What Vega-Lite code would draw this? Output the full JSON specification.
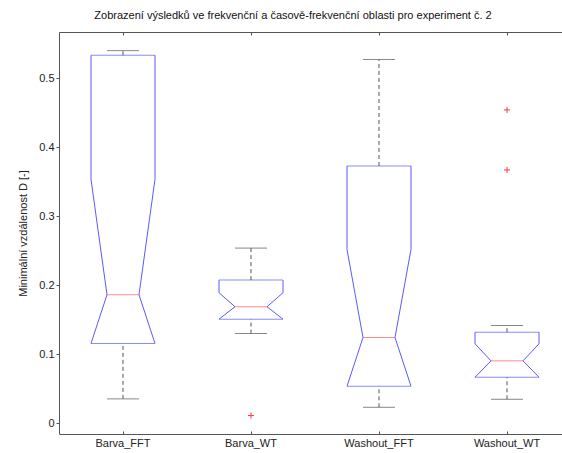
{
  "$schema": "https://vega.github.io/schema/vega-lite/v6.json",
  "width": 504,
  "height": 402,
  "autosize": {"type": "none"},
  "padding": {"left": 59, "top": 32, "right": 0, "bottom": 19},
  "background": "white",
  "title": {
    "text": "Zobrazení výsledků ve frekvenční a časově-frekvenční oblasti pro experiment č. 2",
    "font": "Liberation Sans",
    "fontSize": 11,
    "fontWeight": "normal",
    "color": "#111",
    "anchor": "middle",
    "dx": -18,
    "dy": 8,
    "baseline": "bottom",
    "offset": 8
  },
  "config": {
    "view": {"stroke": null},
    "font": "Liberation Sans",
    "axis": {
      "grid": false,
      "domain": true,
      "domainColor": "#555",
      "domainWidth": 1,
      "ticks": true,
      "tickColor": "#555",
      "labelColor": "#222",
      "labelFont": "Liberation Sans",
      "labelFontSize": 11,
      "titleFont": "Liberation Sans",
      "titleFontSize": 11,
      "titleFontWeight": "normal",
      "titleColor": "#222"
    },
    "axisY": {"tickSize": 3, "labelPadding": 2, "titlePadding": 10}
  },
  "datasets": {
    "stats": [
      {"group": "Barva_FFT", "wlo": 0.0354, "q1": 0.1156, "med": 0.1863, "nhi": 0.3535, "q3": 0.5334, "whi": 0.54},
      {"group": "Barva_WT", "wlo": 0.1301, "q1": 0.1509, "med": 0.1689, "nhi": 0.1892, "q3": 0.2075, "whi": 0.2539},
      {"group": "Washout_FFT", "wlo": 0.0232, "q1": 0.0537, "med": 0.1243, "nhi": 0.252, "q3": 0.3729, "whi": 0.5272},
      {"group": "Washout_WT", "wlo": 0.0348, "q1": 0.0667, "med": 0.0905, "nhi": 0.1152, "q3": 0.132, "whi": 0.1417}
    ],
    "outliers": [
      {"group": "Barva_WT", "value": 0.0112},
      {"group": "Washout_WT", "value": 0.4541},
      {"group": "Washout_WT", "value": 0.3671}
    ]
  },
  "resolve": {"axis": {"x": "independent"}},
  "layer": [
    {
      "data": {"name": "stats"},
      "transform": [{"fold": ["q1", "q3"], "as": ["key", "value"]}],
      "mark": {"type": "tick", "size": 64, "thickness": 1, "color": "#5a5aff"},
      "encoding": {
        "x": {
          "field": "group", "type": "nominal",
          "scale": {"type": "band", "domain": ["Barva_FFT", "Barva_WT", "Washout_FFT", "Washout_WT"], "range": [0, 512], "paddingInner": 0, "paddingOuter": 0},
          "axis": {"orient": "bottom", "title": null, "tickSize": -3, "labelPadding": 6, "labelAngle": 0}
        },
        "y": {
          "field": "value", "type": "quantitative",
          "scale": {"domain": [-0.0155, 0.567], "nice": false, "zero": false},
          "axis": {"values": [0, 0.1, 0.2, 0.3, 0.4, 0.5], "format": "~g"},
          "title": "Minimální vzdálenost D [-]"
        }
      }
    },
    {
      "data": {"name": "stats"},
      "mark": {"type": "tick", "size": 32, "thickness": 1, "color": "#ff5a5a"},
      "encoding": {
        "x": {
          "field": "group", "type": "nominal",
          "axis": {"orient": "top", "title": null, "labels": false, "tickSize": -3}
        },
        "y": {
          "field": "med", "type": "quantitative",
          "axis": {"values": [0, 0.1, 0.2, 0.3, 0.4, 0.5], "format": "~g"},
          "title": "Minimální vzdálenost D [-]"
        }
      }
    },
    {
      "data": {"name": "stats"},
      "transform": [
        {"fold": ["q1", "med", "nhi", "q3"], "as": ["key", "value"]},
        {"lookup": "key", "from": {"data": {"values": [
          {"key": "q1", "dxL": -32, "dxR": 32},
          {"key": "med", "dxL": -16, "dxR": 16},
          {"key": "nhi", "dxL": -32, "dxR": 32},
          {"key": "q3", "dxL": -32, "dxR": 32}
        ]}, "key": "key", "fields": ["dxL", "dxR"]}}
      ],
      "layer": [
        {
          "mark": {"type": "line", "color": "#5a5aff", "strokeWidth": 1},
          "encoding": {
            "x": {"field": "group", "type": "nominal", "axis": null},
            "xOffset": {"field": "dxL", "type": "quantitative", "scale": {"domain": [-64, 64], "range": [0, 128], "nice": false, "zero": false}},
            "y": {"field": "value", "type": "quantitative", "axis": {"values": [0, 0.1, 0.2, 0.3, 0.4, 0.5], "format": "~g"}, "title": "Minimální vzdálenost D [-]"},
            "detail": {"field": "group"},
            "order": {"field": "value", "type": "quantitative"}
          }
        },
        {
          "mark": {"type": "line", "color": "#5a5aff", "strokeWidth": 1},
          "encoding": {
            "x": {"field": "group", "type": "nominal", "axis": null},
            "xOffset": {"field": "dxR", "type": "quantitative", "scale": {"domain": [-64, 64], "range": [0, 128], "nice": false, "zero": false}},
            "y": {"field": "value", "type": "quantitative", "axis": {"values": [0, 0.1, 0.2, 0.3, 0.4, 0.5], "format": "~g"}, "title": "Minimální vzdálenost D [-]"},
            "detail": {"field": "group"},
            "order": {"field": "value", "type": "quantitative"}
          }
        }
      ]
    },
    {
      "data": {"name": "stats"},
      "mark": {"type": "rule", "color": "#555", "strokeWidth": 1, "strokeDash": [4, 3]},
      "encoding": {
        "x": {"field": "group", "type": "nominal", "axis": null},
        "y": {"field": "q3", "type": "quantitative", "axis": {"values": [0, 0.1, 0.2, 0.3, 0.4, 0.5], "format": "~g"}, "title": "Minimální vzdálenost D [-]"},
        "y2": {"field": "whi"}
      }
    },
    {
      "data": {"name": "stats"},
      "mark": {"type": "rule", "color": "#555", "strokeWidth": 1, "strokeDash": [4, 3]},
      "encoding": {
        "x": {"field": "group", "type": "nominal", "axis": null},
        "y": {"field": "wlo", "type": "quantitative", "axis": {"values": [0, 0.1, 0.2, 0.3, 0.4, 0.5], "format": "~g"}, "title": "Minimální vzdálenost D [-]"},
        "y2": {"field": "q1"}
      }
    },
    {
      "data": {"name": "stats"},
      "transform": [{"fold": ["wlo", "whi"], "as": ["key", "value"]}],
      "mark": {"type": "tick", "size": 32, "thickness": 1, "color": "#555"},
      "encoding": {
        "x": {"field": "group", "type": "nominal", "axis": null},
        "y": {"field": "value", "type": "quantitative", "axis": {"values": [0, 0.1, 0.2, 0.3, 0.4, 0.5], "format": "~g"}, "title": "Minimální vzdálenost D [-]"}
      }
    },
    {
      "data": {"name": "outliers"},
      "mark": {"type": "point", "shape": "M-1,0L1,0M0,-1L0,1", "size": 36, "filled": false, "stroke": "#ff3a3a", "strokeWidth": 1, "opacity": 1},
      "encoding": {
        "x": {"field": "group", "type": "nominal", "axis": null},
        "y": {"field": "value", "type": "quantitative", "axis": {"values": [0, 0.1, 0.2, 0.3, 0.4, 0.5], "format": "~g"}, "title": "Minimální vzdálenost D [-]"}
      }
    }
  ]
}
